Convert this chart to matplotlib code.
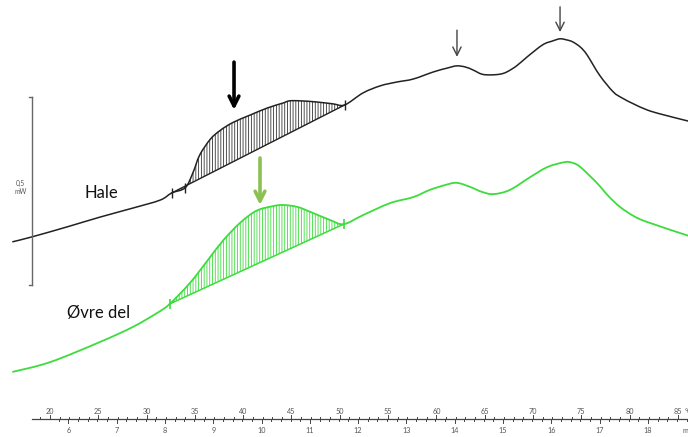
import matplotlib.pyplot as plt
import numpy as np
from matplotlib.path import Path
from matplotlib.patches import PathPatch

plt.rcParams['font.family'] = ['Lato', 'DejaVu Sans']
plt.rcParams['hatch.linewidth'] = 0.6

# DSC-kurver, temperatur (grader C) og varmestrom (mW)
hale_t = [16.1, 18.1, 21.8, 25.2, 28.6, 31.4, 32.6, 34.0, 34.8, 35.5,
          36.6, 37.6, 38.9, 40.7, 42.5, 44.1, 44.8, 45.9, 47.6, 49.3,
          50.5, 52.4, 54.2, 55.9, 57.6, 59.7, 61.1, 62.1, 63.0, 63.8,
          64.7, 65.6, 66.6, 67.3, 68.3, 69.4, 71.0, 72.0, 72.8, 73.5,
          74.1, 74.9, 75.6, 76.9, 78.3, 79.2, 80.4, 81.8, 83.2, 86.1]
hale_mw = [0.519, 0.532, 0.559, 0.585, 0.609, 0.630, 0.649, 0.663, 0.703, 0.750,
           0.792, 0.815, 0.836, 0.856, 0.875, 0.888, 0.894, 0.894, 0.891, 0.886,
           0.883, 0.915, 0.934, 0.944, 0.952, 0.971, 0.981, 0.987, 0.984, 0.976,
           0.965, 0.963, 0.965, 0.971, 0.987, 1.011, 1.043, 1.053, 1.059, 1.056,
           1.051, 1.037, 1.016, 0.962, 0.918, 0.902, 0.886, 0.870, 0.859, 0.840]

ovre_t = [16.1, 20.0, 25.2, 28.6, 31.1, 32.4, 34.5, 36.3, 37.9, 39.7,
          41.4, 43.1, 44.1, 45.6, 47.2, 49.0, 50.4, 52.4, 55.2, 57.6,
          59.3, 60.9, 62.1, 63.5, 64.7, 65.9, 67.6, 69.7, 71.5, 73.3,
          74.1, 74.9, 76.6, 77.8, 79.0, 80.4, 81.8, 86.1]
ovre_mw = [0.173, 0.199, 0.253, 0.293, 0.330, 0.354, 0.410, 0.469, 0.522, 0.570,
           0.602, 0.614, 0.617, 0.612, 0.596, 0.577, 0.566, 0.590, 0.622, 0.638,
           0.657, 0.670, 0.676, 0.665, 0.652, 0.646, 0.657, 0.691, 0.718, 0.731,
           0.729, 0.718, 0.676, 0.641, 0.612, 0.588, 0.572, 0.535]

# integrasjonsgrenser (start, slutt) og ekstra merke
hale_grenser = [32.6, 50.5]
hale_merke = 34.0
ovre_grenser = [32.4, 50.4]

# piler: (temperatur, topp, spiss)
hale_pil = (39.05, 0.997, 0.870)
ovre_pil = (41.74, 0.742, 0.617)
sma_piler = [(62.13, 1.082, 1.011), (72.8, 1.144, 1.077)]

temp_labels = [20, 25, 30, 35, 40, 45, 50, 55, 60, 65, 70, 75, 80, 85]
min_labels = [6, 7, 8, 9, 10, 11, 12, 13, 14, 15, 16, 17, 18]
min_start_t = 21.9   # temperatur ved 6 min
grader_per_min = 5.0

skala_t = 18.14
skala_lo = 0.404
skala_len = 0.5
akse_y = 0.048

gronn = '#3ddc3d'
gronn_pil = '#8cc152'


def glatt(x, y):
    # kurve gjennom punktene tegnet som kubiske bezier-segmenter
    p = np.column_stack([x, y])
    verts = [p[0]]
    codes = [Path.MOVETO]
    for i in range(len(p) - 1):
        p0 = p[i - 1] if i > 0 else p[i]
        p3 = p[i + 2] if i + 2 < len(p) else p[i + 1]
        verts += [p[i] + (p[i + 1] - p0) / 6, p[i + 1] - (p3 - p[i]) / 6, p[i + 1]]
        codes += [Path.CURVE4] * 3
    return verts, codes


def topp(ax, x, y, grenser, farge):
    x = np.array(x)
    y = np.array(y)
    m = (x >= grenser[0]) & (x <= grenser[1])
    v, c = glatt(x[m], y[m])
    v = v + [v[0], v[0]]
    c = c + [Path.LINETO, Path.CLOSEPOLY]
    ax.add_patch(PathPatch(Path(v, c), facecolor='none', edgecolor=farge,
                           hatch='||||||', lw=0))
    yb = np.interp(grenser, x, y)
    return yb


fig = plt.figure(figsize=(6.88, 4.37), dpi=100)
ax = fig.add_axes([0, 0, 1, 1])
ax.set_xlim(14.824, 86.046)
ax.set_ylim(0, 1.1622)
ax.axis('off')

# skraverte topper og grunnlinjer
b0 = topp(ax, hale_t, hale_mw, hale_grenser, '#333333')
ax.plot(hale_grenser, b0, color='#222222', lw=1.0)
b1 = topp(ax, ovre_t, ovre_mw, ovre_grenser, gronn)
ax.plot(ovre_grenser, b1, color=gronn, lw=1.1)

v, c = glatt(hale_t, hale_mw)
ax.add_patch(PathPatch(Path(v, c), facecolor='none', edgecolor='#222222', lw=1.1))
v, c = glatt(ovre_t, ovre_mw)
ax.add_patch(PathPatch(Path(v, c), facecolor='none', edgecolor=gronn, lw=1.3))

# merker
ax.plot(hale_grenser + [hale_merke], list(b0) + [np.interp(hale_merke, hale_t, hale_mw)],
        ls='none', marker='|', ms=7, mew=1.0, color='#222222')
ax.plot(ovre_grenser, b1, ls='none', marker='|', ms=7, mew=1.2, color=gronn)

# piler
ax.annotate('', xy=(hale_pil[0], hale_pil[2]), xytext=(hale_pil[0], hale_pil[1]),
            arrowprops=dict(arrowstyle='->, head_length=0.7, head_width=0.35',
                            lw=2.6, color='black', shrinkA=0, shrinkB=0))
ax.annotate('', xy=(ovre_pil[0], ovre_pil[2]), xytext=(ovre_pil[0], ovre_pil[1]),
            arrowprops=dict(arrowstyle='->, head_length=0.7, head_width=0.35',
                            lw=2.6, color=gronn_pil, shrinkA=0, shrinkB=0))
for t, y0, y1 in sma_piler:
    ax.annotate('', xy=(t, y1), xytext=(t, y0),
                arrowprops=dict(arrowstyle='->, head_length=0.6, head_width=0.3',
                                lw=1.0, color='#444444', shrinkA=0, shrinkB=0))

ax.text(25.3, 0.650, 'Hale', fontsize=12, ha='center', va='center', color='#111111')
ax.text(21.8, 0.330, 'Øvre del', fontsize=12, ha='left', va='center', color='#111111')

# skala 0,5 mW
ax.plot([skala_t, skala_t], [skala_lo, skala_lo + skala_len], color='#666666', lw=1.0)
ax.plot([skala_t - 0.3, skala_t], [skala_lo, skala_lo], color='#666666', lw=1.0)
ax.plot([skala_t - 0.3, skala_t], [skala_lo + skala_len] * 2, color='#666666', lw=1.0)
ax.text(skala_t - 1.2, skala_lo + skala_len / 2 + 0.01, '0,5\nmW', fontsize=4.8,
        ha='center', va='center', color='#555555', linespacing=1.1)

# temperatur- og tidsakse
ax.plot([skala_t, 86.1], [akse_y, akse_y], color='#444444', lw=0.9)
for t in range(19, 87):
    h = 0.010 if t % 5 == 0 else 0.006
    ax.plot([t, t], [akse_y, akse_y + h], color='#444444', lw=0.7)
for k in range(-1, 65):
    t = min_start_t + k * grader_per_min / 5
    h = 0.010 if k % 5 == 0 else 0.006
    if skala_t < t < 86.1:
        ax.plot([t, t], [akse_y - h, akse_y], color='#444444', lw=0.7)
for t in temp_labels:
    ax.text(t, akse_y + 0.021, str(t), fontsize=5.2, ha='center', va='center', color='#555555')
for mn in min_labels:
    t = min_start_t + (mn - min_labels[0]) * grader_per_min
    ax.text(t, akse_y - 0.030, str(mn), fontsize=5.2, ha='center', va='center', color='#555555')
ax.text(85.7, akse_y + 0.021, '°C', fontsize=5.2, ha='left', va='center', color='#555555')
ax.text(85.5, akse_y - 0.030, 'min', fontsize=5.2, ha='left', va='center', color='#555555')

fig.savefig('out.png', dpi=100)
